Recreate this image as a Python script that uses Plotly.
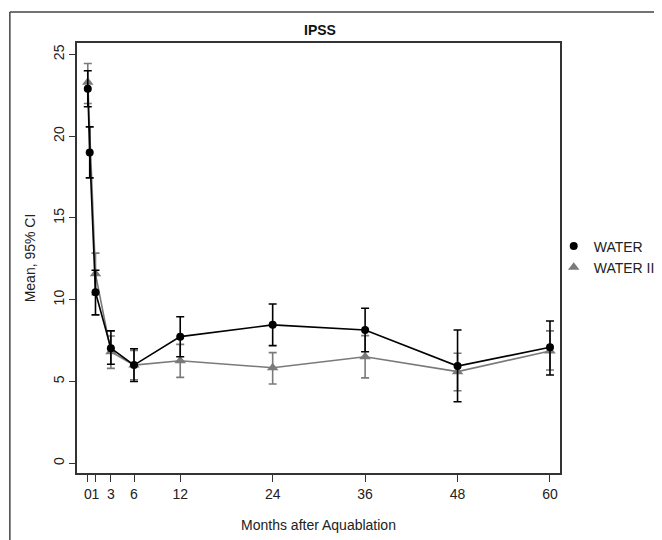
import plotly.graph_objects as go

# ---- data ----
months_water = [0, 0.25, 1, 3, 6, 12, 24, 36, 48, 60]
mean_water = [22.9, 19.0, 10.45, 7.03, 6.0, 7.74, 8.46, 8.15, 5.94, 7.09]
lo_water = [21.8, 17.45, 9.07, 6.05, 5.0, 6.51, 7.19, 6.82, 3.76, 5.39]
hi_water = [24.0, 20.57, 11.8, 8.09, 7.0, 8.96, 9.74, 9.48, 8.15, 8.7]

months_water2 = [0, 1, 3, 6, 12, 24, 36, 48, 60]
mean_water2 = [23.3, 11.58, 6.82, 6.0, 6.27, 5.84, 6.51, 5.6, 6.86]
lo_water2 = [22.0, 10.3, 5.8, 5.1, 5.25, 4.84, 5.22, 4.43, 5.7]
hi_water2 = [24.45, 12.85, 7.78, 6.9, 7.27, 6.76, 7.8, 6.72, 8.09]

x_ticks = [0, 1, 3, 6, 12, 24, 36, 48, 60]
x_ticklabels = ["0", "1", "3", "6", "12", "24", "36", "48", "60"]
y_ticks = [0, 5, 10, 15, 20, 25]

BLACK = "#000000"
GRAY = "#7a7a7a"
FONT = "Liberation Sans, Arial, sans-serif"

fig = go.Figure()

def add_series(x, m, lo, hi, color, symbol, size, name):
    fig.add_trace(go.Scatter(
        x=x, y=m, mode="lines+markers", name=name, showlegend=False,
        line=dict(color=color, width=1.6),
        marker=dict(color=color, symbol=symbol, size=size),
        error_y=dict(type="data", symmetric=False,
                     array=[h - v for h, v in zip(hi, m)],
                     arrayminus=[v - l for v, l in zip(m, lo)],
                     color=color, thickness=1.6, width=4),
    ))

add_series(months_water2, mean_water2, lo_water2, hi_water2, GRAY, "triangle-up", 10, "WATER II")
add_series(months_water, mean_water, lo_water, hi_water, BLACK, "circle", 8, "WATER")

# legend entries (markers only)
fig.add_trace(go.Scatter(x=[None], y=[None], mode="markers", name="WATER",
                         marker=dict(color=BLACK, symbol="circle", size=8)))
fig.add_trace(go.Scatter(x=[None], y=[None], mode="markers", name="WATER II",
                         marker=dict(color=GRAY, symbol="triangle-up", size=10)))

axis_common = dict(showgrid=False, zeroline=False, showline=True, linecolor="#333333",
                   linewidth=1.5, mirror=True, ticks="outside",
                   tickcolor="#333333", tickwidth=1.2, automargin=False,
                   tickfont=dict(family=FONT, size=14, color="#222222"))

fig.update_xaxes(range=[-1.4, 61.3], tickvals=x_ticks, ticktext=x_ticklabels, tickangle=0,
                 ticklen=7,
                 title=dict(text="Months after Aquablation", standoff=20,
                            font=dict(family=FONT, size=14, color="#222222")),
                 **axis_common)
fig.update_yaxes(range=[-0.6, 25.7], tickvals=y_ticks, tickangle=-90, ticklen=6,
                 title=dict(text="Mean, 95% CI", standoff=12,
                            font=dict(family=FONT, size=14, color="#222222")),
                 **axis_common)

# outer frame lines
fig.add_shape(type="line", xref="paper", yref="paper", x0=-0.139, x1=-0.139, y0=-0.2, y1=1.072,
              line=dict(color="#444444", width=1.5))
fig.add_shape(type="line", xref="paper", yref="paper", x0=-0.139, x1=1.3, y0=1.072, y1=1.072,
              line=dict(color="#444444", width=1.5))

# page body has an 8px margin; canvas is sized so it fits the 662x540 window
W, H = 654, 532
fig.update_layout(
    width=W, height=H,
    margin=dict(l=69, r=102, t=35, b=67, autoexpand=False),
    paper_bgcolor="white", plot_bgcolor="white",
    title=dict(text="<b>IPSS</b>", x=312 / W, xanchor="center", y=1 - 22 / H, yanchor="middle",
               font=dict(family=FONT, size=14, color="#111111")),
    legend=dict(x=0.987, xanchor="left", y=0.564, yanchor="top",
                font=dict(family=FONT, size=14, color="#222222"),
                bgcolor="rgba(0,0,0,0)", tracegroupgap=0),
    showlegend=True,
)

fig.write_html("out.html")
